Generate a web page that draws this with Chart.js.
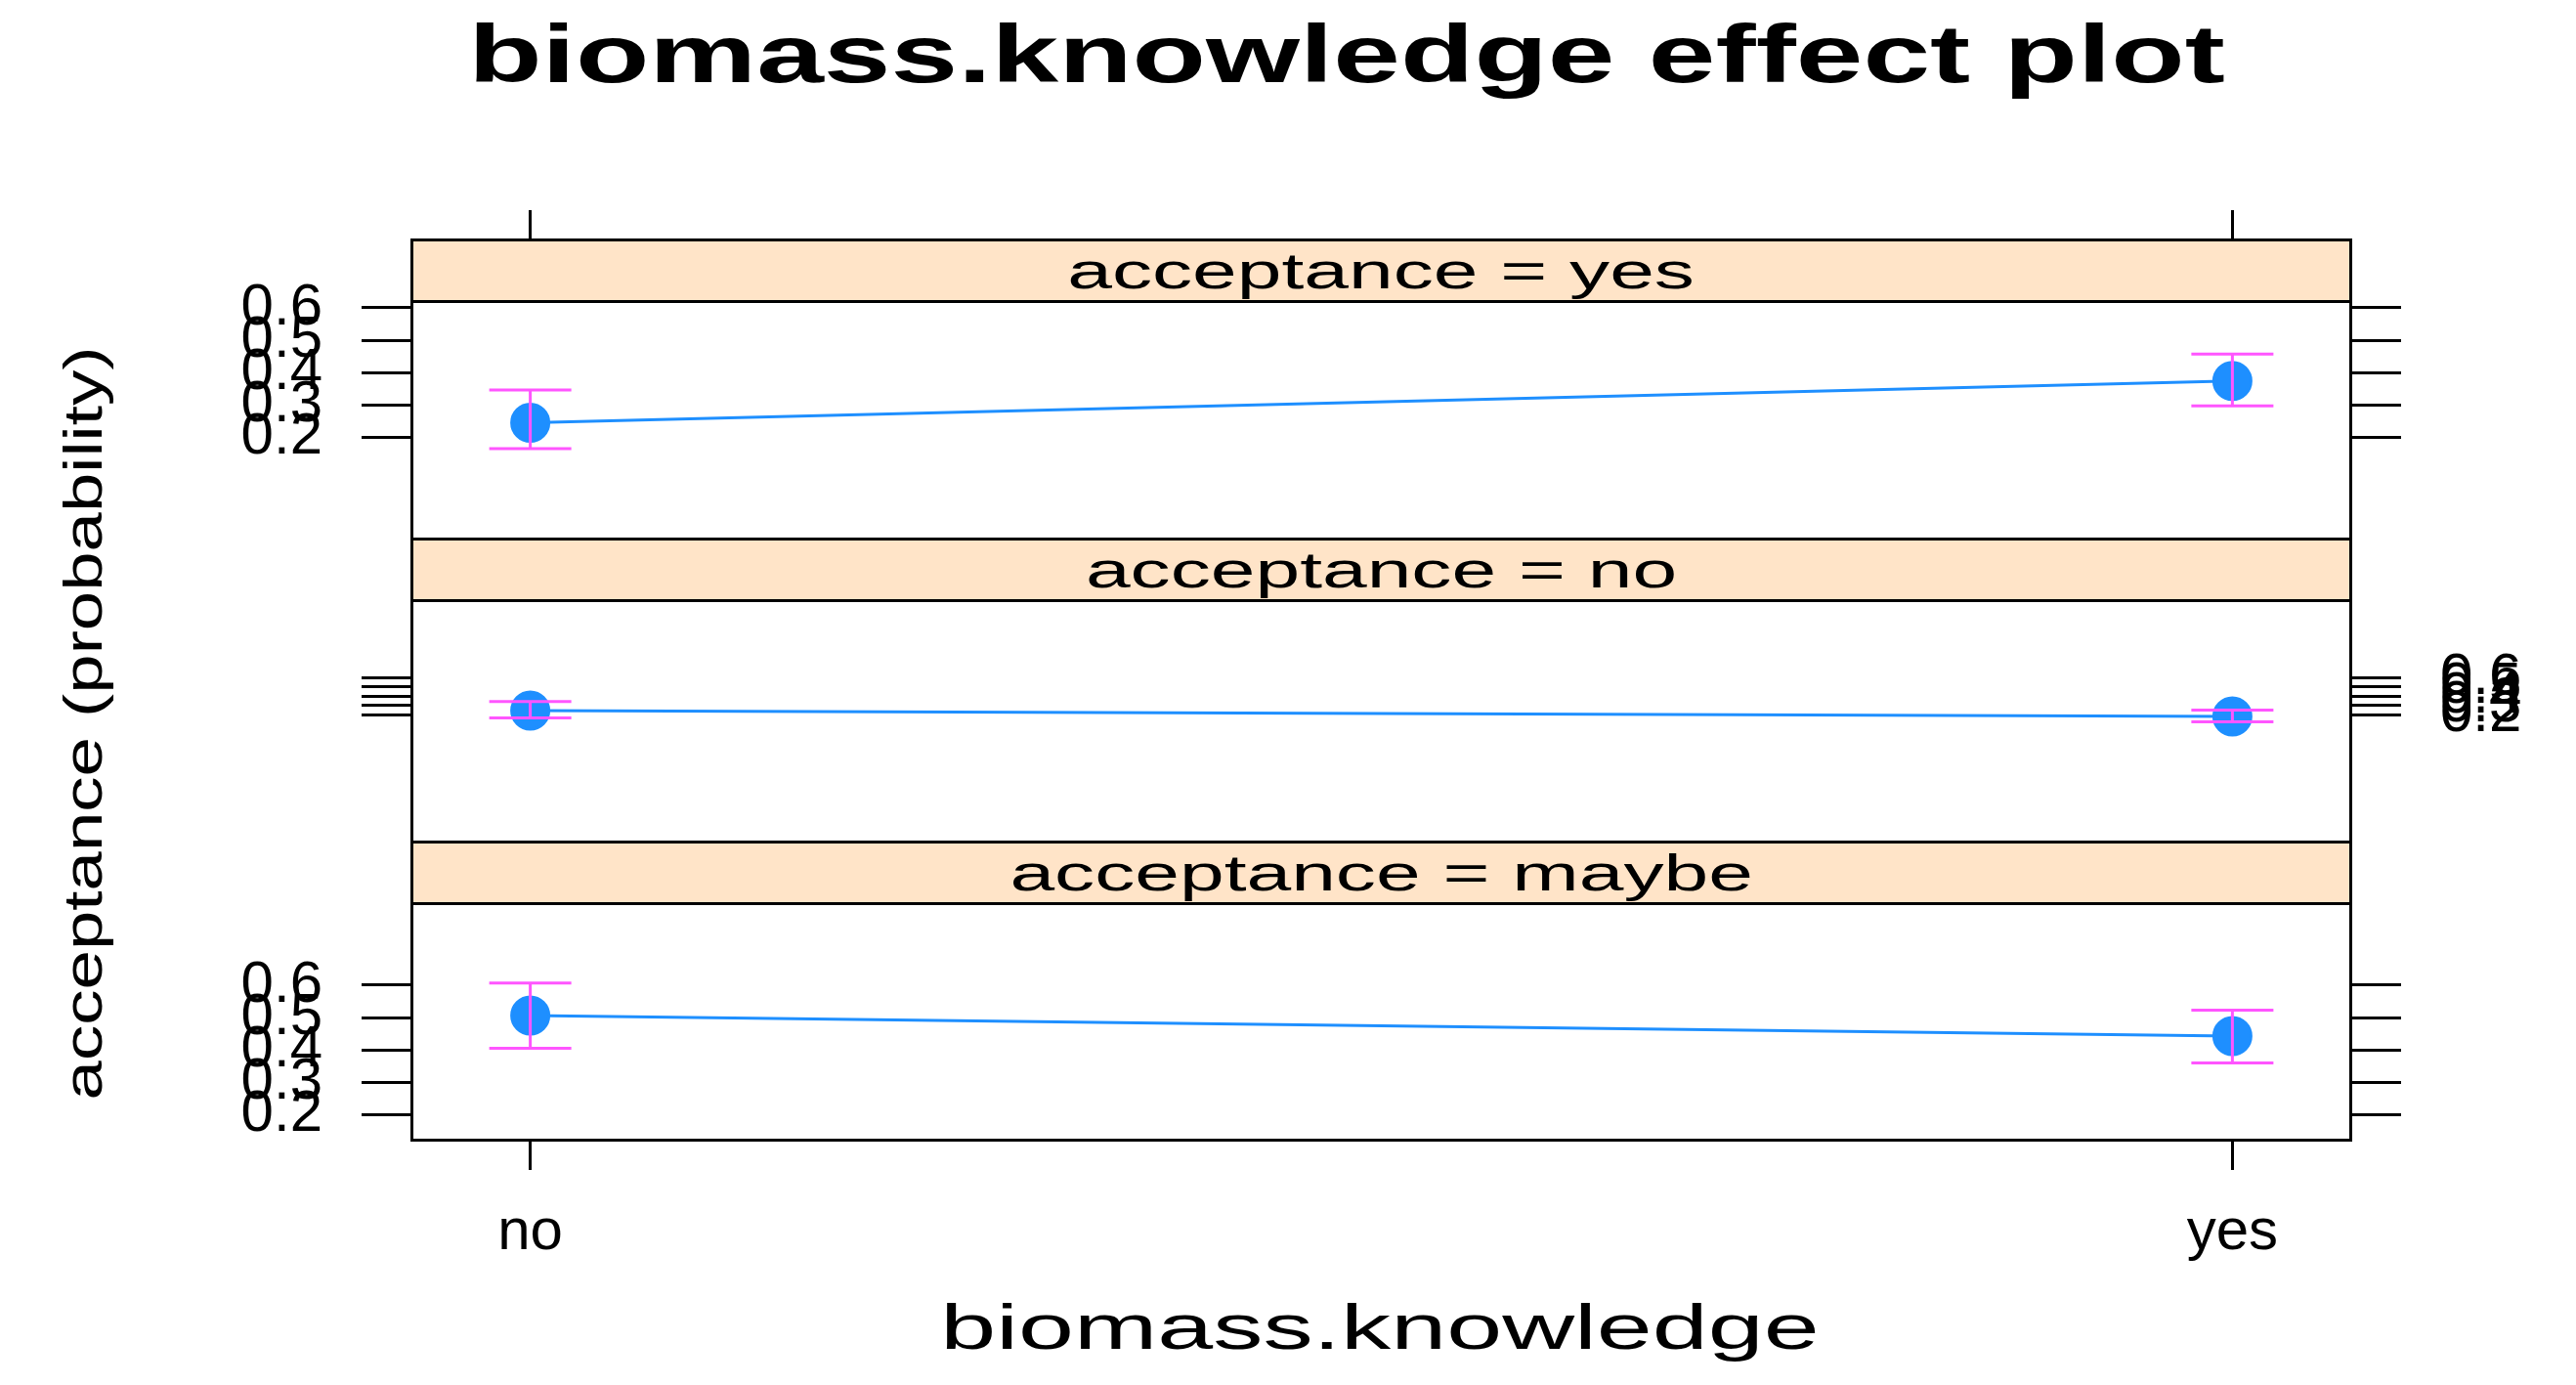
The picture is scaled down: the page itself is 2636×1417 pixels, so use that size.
<!DOCTYPE html>
<html><head><meta charset="utf-8">
<script src="https://cdn.jsdelivr.net/npm/chart.js@4/dist/chart.umd.min.js"></script>
<style>
body{margin:0;width:2636px;height:1417px;background:#fff;position:relative;overflow:hidden;font-family:"Liberation Sans",Arial,sans-serif}
canvas{position:absolute;left:0}
.t{position:absolute;white-space:nowrap;transform:translate(-50%,-50%) scaleX(1.45);color:#000}
.strip{position:absolute;left:420px;width:1987px;background:#FFE4C8;border-top:3px solid #000;border-bottom:3px solid #000;box-sizing:border-box;z-index:2;font-size:52px;text-align:center}
.strip span{display:inline-block;transform:scaleX(1.58)}
#box{position:absolute;left:420px;top:244px;width:1987px;height:924px;border:3px solid #000;box-sizing:border-box;z-index:3}
</style></head><body>
<div class="t" style="left:1378px;top:55px;font-size:84px;font-weight:bold;transform:translate(-50%,-50%) scaleX(1.47)">biomass.knowledge effect plot</div>
<div class="t" style="left:84px;top:740px;font-size:66px;transform:translate(-50%,-50%) rotate(-90deg) scaleX(1.1) scaleY(0.85)">acceptance (probability)</div>
<div class="t" style="left:1412px;top:1358px;font-size:64px;transform:translate(-50%,-50%) scaleX(1.6)">biomass.knowledge</div>
<div class="strip" style="top:244px;height:66px;line-height:60px"><span>acceptance = yes</span></div>
<div class="strip" style="top:550px;height:66px;line-height:60px"><span>acceptance = no</span></div>
<div class="strip" style="top:860px;height:66px;line-height:60px"><span>acceptance = maybe</span></div>
<div id="box"></div>
<canvas id="c1" width="2636" height="336" style="top:215px"></canvas>
<canvas id="c2" width="2636" height="246" style="top:615px"></canvas>
<canvas id="c3" width="2636" height="365" style="top:925px"></canvas>
<script>
const categories = ['no', 'yes'];
const yTicks = [0.2, 0.3, 0.4, 0.5, 0.6];
const fitYes = [0.245, 0.374];
const lowYes = [0.165, 0.297];
const highYes = [0.346, 0.457];
const fitNo = [0.242, 0.179];
const lowNo = [0.165, 0.123];
const highNo = [0.339, 0.249];
const fitMaybe = [0.506, 0.443];
const lowMaybe = [0.405, 0.36];
const highMaybe = [0.607, 0.523];

const tickFont = {family: '"Liberation Sans", Arial, sans-serif', size: 60};

function makePanel(id, fit, low, high, opts) {
  const ci = [];
  categories.forEach((c, i) => {
    ci.push({x: i, y: low[i]}, {x: i, y: high[i]}, {x: i, y: null});
  });
  const yAxis = (side, show) => ({
    type: 'linear', position: side, min: 0.117, max: 0.621,
    afterBuildTicks: s => { s.ticks = yTicks.map(v => ({value: v})); },
    afterFit: s => { s.width = side === 'left' ? 420 : 229; },
    border: {display: false},
    grid: {drawOnChartArea: false, tickLength: 50, color: '#000', lineWidth: 3},
    ticks: {font: tickFont, color: '#000', padding: 40, autoSkip: false, maxRotation: 0,
      callback: v => show ? v.toFixed(1) : ''}
  });
  const xAxis = {
    type: 'linear', min: -0.0704, max: 1.0704, display: !!opts.x,
    position: opts.x || 'bottom',
    afterBuildTicks: s => { s.ticks = categories.map((c, i) => ({value: i})); },
    afterFit: s => { s.height = opts.x === 'top' ? 93 : 122; },
    border: {display: false},
    grid: {drawOnChartArea: false, tickLength: opts.x === 'top' ? 93 : 29, color: '#000', lineWidth: 3},
    ticks: {font: tickFont, color: '#000', padding: 28, autoSkip: false, maxRotation: 0,
      callback: v => opts.x === 'bottom' ? categories[v] : ''}
  };
  new Chart(document.getElementById(id), {
    type: 'line',
    data: {datasets: [
      {data: ci, yAxisID: 'yl', borderColor: '#FF55FF', borderWidth: 3, spanGaps: false,
       pointStyle: 'line', pointRadius: 42, pointBorderColor: '#FF55FF', pointBorderWidth: 3, clip: false},
      {data: fit.map((v, i) => ({x: i, y: v})), yAxisID: 'yl', borderColor: '#1E8FFF', borderWidth: 3,
       pointRadius: 19, pointBackgroundColor: '#1E8FFF', pointBorderColor: '#1E8FFF', clip: false}
    ]},
    options: {
      responsive: false, animation: false, devicePixelRatio: 1,
      layout: {padding: 0},
      plugins: {legend: {display: false}, tooltip: {enabled: false}},
      scales: {x: xAxis, yl: yAxis('left', opts.left), yr: yAxis('right', opts.right)}
    }
  });
}

makePanel('c1', fitYes, lowYes, highYes, {x: 'top', left: true, right: false});
makePanel('c2', fitNo, lowNo, highNo, {left: false, right: true});
makePanel('c3', fitMaybe, lowMaybe, highMaybe, {x: 'bottom', left: true, right: false});
</script>
</body></html>
